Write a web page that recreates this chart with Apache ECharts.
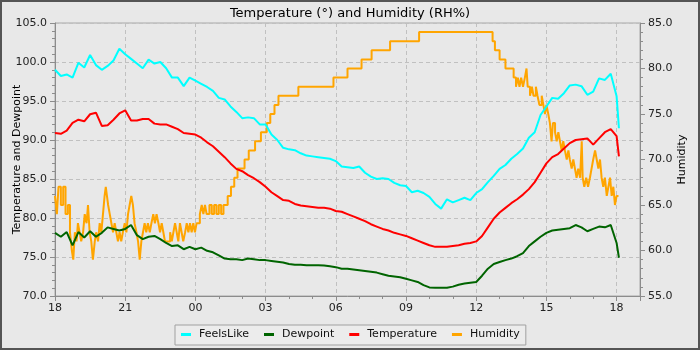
<!DOCTYPE html>
<html>
<head>
<meta charset="utf-8">
<script src="https://cdn.jsdelivr.net/npm/echarts@6/dist/echarts.min.js"></script>
<style>
html,body{margin:0;padding:0;background:#e8e8e8;}
#chart{width:700px;height:350px;}
</style>
</head>
<body>
<div id="chart"></div>
<script>
// Hours since 18:00 of the first day
const hours = [0, 0.25, 0.5, 0.75, 1, 1.25, 1.5, 1.75, 2, 2.25, 2.5, 2.75, 3, 3.25, 3.5, 3.75,
  4, 4.25, 4.5, 4.75, 5, 5.25, 5.5, 5.75, 6, 6.25, 6.5, 6.75, 7, 7.25, 7.5, 7.75,
  8, 8.25, 8.5, 8.75, 9, 9.25, 9.5, 9.75, 10, 10.25, 10.5, 10.75, 11, 11.25, 11.5, 11.75,
  12, 12.25, 12.5, 12.75, 13, 13.25, 13.5, 13.75, 14, 14.25, 14.5, 14.75, 15, 15.25, 15.5, 15.75,
  16, 16.25, 16.5, 16.75, 17, 17.25, 17.5, 17.75, 18, 18.25, 18.5, 18.75, 19, 19.25, 19.5, 19.75,
  20, 20.25, 20.5, 20.75, 21, 21.25, 21.5, 21.75, 22, 22.25, 22.5, 22.75, 23, 23.25, 23.5, 23.75,
  24, 24.1];

const feelsLike = [99.0, 98.2, 98.4, 98.0, 99.9, 99.3, 100.9, 99.6, 99.0, 99.5, 100.2, 101.7, 101.0, 100.4, 99.8, 99.2,
  100.3, 99.8, 100.0, 99.2, 98.0, 98.0, 96.9, 98.0, 97.6, 97.2, 96.8, 96.3, 95.4, 95.2, 94.3, 93.6,
  92.8, 92.9, 92.8, 92.0, 92.0, 90.7, 90.0, 89.0, 88.8, 88.7, 88.3, 88.0, 87.9, 87.8, 87.7, 87.6,
  87.3, 86.6, 86.5, 86.4, 86.6, 85.8, 85.3, 85.0, 85.1, 85.0, 84.5, 84.2, 84.1, 83.3, 83.5, 83.2,
  82.7, 81.8, 81.2, 82.4, 82.0, 82.3, 82.6, 82.3, 83.2, 83.7, 84.6, 85.4, 86.3, 86.8, 87.6, 88.2,
  88.9, 90.3, 91.0, 93.2, 94.3, 95.4, 95.3, 96.0, 97.0, 97.1, 96.9, 95.8, 96.2, 97.9, 97.7, 98.5,
  95.6, 91.5];

const dewpoint = [78.1, 77.6, 78.2, 76.5, 78.2, 77.5, 78.3, 77.6, 78.1, 78.8, 78.6, 78.4, 78.6, 79.1, 77.8, 77.3,
  77.6, 77.7, 77.3, 76.8, 76.4, 76.5, 76.0, 76.3, 76.0, 76.2, 75.8, 75.6, 75.2, 74.8, 74.7, 74.7,
  74.6, 74.8, 74.7, 74.6, 74.6, 74.5, 74.4, 74.3, 74.1, 74.0, 74.0, 73.95, 73.95, 73.95, 73.9, 73.8,
  73.7, 73.5, 73.5, 73.4, 73.3, 73.2, 73.1, 73.0, 72.8, 72.6, 72.5, 72.4, 72.2, 72.0, 71.8, 71.4,
  71.1, 71.05, 71.05, 71.05, 71.2, 71.45, 71.6, 71.7, 71.8, 72.6, 73.5, 74.1, 74.35, 74.6, 74.8, 75.1,
  75.5, 76.4, 77.0, 77.6, 78.1, 78.4, 78.5, 78.6, 78.7, 79.1, 78.8, 78.3, 78.6, 78.9, 78.8, 79.1,
  76.8, 74.9];

const temperature = [90.9, 90.8, 91.2, 92.2, 92.6, 92.4, 93.3, 93.5, 91.8, 91.9, 92.6, 93.4, 93.8, 92.5, 92.5, 92.7,
  92.7, 92.1, 92.0, 92.0, 91.7, 91.4, 90.9, 90.8, 90.7, 90.3, 89.7, 89.2, 88.5, 87.8, 87.0, 86.3,
  86.0, 85.5, 85.1, 84.6, 84.0, 83.3, 82.8, 82.3, 82.2, 81.8, 81.6, 81.5, 81.4, 81.3, 81.3, 81.2,
  80.9, 80.8, 80.5, 80.2, 79.9, 79.6, 79.2, 78.9, 78.6, 78.4, 78.1, 77.9, 77.7, 77.4, 77.1, 76.8,
  76.5, 76.3, 76.3, 76.3, 76.4, 76.5, 76.7, 76.8, 77.0, 77.7, 78.8, 79.9, 80.7, 81.3, 81.9, 82.4,
  83.0, 83.7, 84.6, 85.8, 87.0, 87.8, 88.2, 88.9, 89.6, 90.0, 90.1, 90.2, 89.4, 90.2, 91.0, 91.4,
  90.5, 87.9];

// Humidity change points (hours since 18:00) and values (RH%)
const humHours = [0, 0.08, 0.15, 0.25, 0.35, 0.45, 0.55, 0.64, 0.72, 0.78, 0.85, 0.92, 0.98, 1.05, 1.12, 1.2,
  1.27, 1.35, 1.41, 1.48, 1.55, 1.62, 1.7, 1.76, 1.84, 1.91, 1.98, 2.05, 2.12, 2.17, 2.22, 2.27,
  2.34, 2.41, 2.48, 2.55, 2.62, 2.69, 2.76, 2.83, 2.9, 2.98, 3.05, 3.12, 3.19, 3.26, 3.33, 3.4,
  3.48, 3.55, 3.62, 3.69, 3.76, 3.83, 3.9, 3.97, 4.05, 4.12, 4.2, 4.27, 4.34, 4.42, 4.49, 4.56,
  4.63, 4.7, 4.92, 4.99, 5.06, 5.13, 5.2, 5.27, 5.34, 5.41, 5.48, 5.56, 5.63, 5.7, 5.77, 5.84,
  5.91, 5.98, 6.05, 6.19, 6.27, 6.34, 6.41, 6.48, 6.6, 6.7, 6.8, 6.9, 7.0, 7.1, 7.2, 7.38,
  7.52, 7.66, 7.8, 8.1, 8.28, 8.55, 8.8, 9.05, 9.2, 9.38, 9.55, 10.4, 11.9, 12.5, 13.1, 13.53,
  14.32, 15.56, 18.7, 18.8, 19.0, 19.25, 19.6, 19.7, 19.78, 19.85, 19.92, 20.0, 20.08, 20.15, 20.2, 20.3,
  20.38, 20.45, 20.55, 20.62, 20.7, 20.8, 20.87, 20.94, 21.0, 21.08, 21.15, 21.22, 21.28, 21.37, 21.44, 21.51,
  21.58, 21.65, 21.72, 21.79, 21.87, 21.94, 22.0, 22.08, 22.15, 22.22, 22.29, 22.36, 22.44, 22.51, 22.55, 22.62,
  22.7, 22.78, 22.86, 22.93, 23.0, 23.08, 23.15, 23.22, 23.29, 23.36, 23.43, 23.5, 23.58, 23.65, 23.72, 23.79,
  23.86, 23.93, 24.0, 24.08];
const humidity = [66, 64, 67, 65, 67, 64, 65, 62, 60, 59, 62, 61, 63, 62, 61, 62,
  64, 63, 65, 62, 61, 59, 61, 62, 61, 63, 62, 64, 66, 67, 66, 65,
  64, 63, 62, 63, 62, 61, 62, 61, 62, 63, 62, 64, 65, 66, 65, 63,
  62, 61, 59, 61, 62, 63, 62, 63, 62, 63, 64, 63, 64, 63, 62, 63,
  62, 61, 62, 61, 62, 63, 62, 61, 63, 62, 61, 62, 63, 62, 63, 62,
  63, 62, 63, 64, 65, 64, 65, 64, 65, 64, 65, 64, 65, 64, 65, 66,
  67, 68, 69, 70, 71, 72, 73, 74, 75, 76, 77, 78, 79, 80, 81, 82,
  83, 84, 83, 82, 81, 80, 79, 78, 79, 78, 79, 78, 79, 80, 78, 77,
  78, 77, 78, 77, 76, 77, 76, 75, 76, 75, 74, 72, 74, 73, 72, 73,
  72, 71, 72, 71, 70, 71, 70, 69, 70, 69, 68, 69, 68, 72, 68, 67,
  68, 67, 68, 69, 70, 71, 70, 69, 70, 68, 67, 68, 66, 67, 68, 66,
  67, 65, 66, 66];

const xTickLabels = ['18', '21', '00', '03', '06', '09', '12', '15', '18'];

const FONT = 'DejaVu Sans';
const chart = echarts.init(document.getElementById('chart'), null, {renderer: 'canvas'});
const axisGray = '#8c8c8c';
const option = {
  animation: false,
  backgroundColor: '#e8e8e8',
  title: {
    text: 'Temperature (°) and Humidity (RH%)',
    left: 'center', top: 2,
    textStyle: {fontFamily: FONT, fontSize: 13, fontWeight: 'normal', color: '#000'}
  },
  graphic: [{
    type: 'rect', silent: true, z: 100,
    shape: {x: 1, y: 1, width: 698, height: 348},
    style: {fill: 'none', stroke: '#555', lineWidth: 2}
  }],
  grid: {left: 55, right: 60, top: 23, bottom: 54, containLabel: false, outerBoundsMode: 'none',
    show: true, borderColor: '#a8a8a8', borderWidth: 1, backgroundColor: 'transparent'},
  legend: {
    left: 175, top: 325, width: 360,
    padding: [4, 6, 5, 6], itemGap: 15,
    borderColor: '#a0a0a0', borderWidth: 1, backgroundColor: '#ececec',
    icon: 'rect', itemWidth: 10, itemHeight: 3,
    textStyle: {fontFamily: FONT, fontSize: 11, color: '#111', padding: [0, 0, 0, 3]},
    data: ['FeelsLike', 'Dewpoint', 'Temperature', 'Humidity']
  },
  xAxis: {
    type: 'value', min: 0, max: 25, interval: 3,
    axisLine: {lineStyle: {color: axisGray}},
    axisTick: {show: true, length: 5, lineStyle: {color: axisGray}},
    minorTick: {show: true, splitNumber: 3, length: 3, lineStyle: {color: axisGray}},
    splitLine: {show: true, lineStyle: {color: '#c0c0c0', type: [4, 3], width: 1}},
    axisLabel: {
      fontFamily: FONT, fontSize: 11, color: '#222', margin: 7, showMaxLabel: false,
      formatter: v => { const i = Math.round(v / 3); return (Math.abs(v - i * 3) < 1e-6 && i < xTickLabels.length) ? xTickLabels[i] : ''; }
    }
  },
  yAxis: [{
    type: 'value', min: 70, max: 105, interval: 5, position: 'left',
    name: 'Temperature and Dewpoint', nameLocation: 'middle', nameGap: 32, nameRotate: 90,
    nameMoveOverlap: false,
    nameTextStyle: {fontFamily: FONT, fontSize: 11, color: '#000'},
    axisLine: {show: true, lineStyle: {color: axisGray}},
    axisTick: {show: true, length: 5, lineStyle: {color: axisGray}},
    minorTick: {show: true, splitNumber: 5, length: 3, lineStyle: {color: axisGray}},
    splitLine: {show: true, lineStyle: {color: '#c0c0c0', type: [4, 3], width: 1}},
    axisLabel: {fontFamily: FONT, fontSize: 11, color: '#222', margin: 8, formatter: v => v.toFixed(1)}
  }, {
    type: 'value', min: 55, max: 85, interval: 5, position: 'right',
    name: 'Humidity', nameLocation: 'middle', nameGap: 37, nameRotate: 90,
    nameMoveOverlap: false,
    nameTextStyle: {fontFamily: FONT, fontSize: 11, color: '#000'},
    axisLine: {show: true, lineStyle: {color: axisGray}},
    axisTick: {show: true, length: 5, lineStyle: {color: axisGray}},
    minorTick: {show: true, splitNumber: 5, length: 3, lineStyle: {color: axisGray}},
    splitLine: {show: false},
    axisLabel: {fontFamily: FONT, fontSize: 11, color: '#222', margin: 8, formatter: v => v.toFixed(1)}
  }],
  series: [{
    name: 'Humidity', type: 'line', yAxisIndex: 1, step: 'end', showSymbol: false, symbol: 'none',
    color: '#ffa500', lineStyle: {width: 2, color: '#ffa500'}, z: 1,
    data: humHours.map((h, i) => [h, humidity[i]])
  }, {
    name: 'FeelsLike', type: 'line', showSymbol: false, symbol: 'none',
    color: '#00ffff', lineStyle: {width: 2, color: '#00ffff'}, z: 2,
    data: hours.map((h, i) => [h, feelsLike[i]])
  }, {
    name: 'Dewpoint', type: 'line', showSymbol: false, symbol: 'none',
    color: '#006400', lineStyle: {width: 2, color: '#006400'}, z: 3,
    data: hours.map((h, i) => [h, dewpoint[i]])
  }, {
    name: 'Temperature', type: 'line', showSymbol: false, symbol: 'none',
    color: '#ff0000', lineStyle: {width: 2, color: '#ff0000'}, z: 4,
    data: hours.map((h, i) => [h, temperature[i]])
  }]
};
chart.setOption(option);
</script>
</body>
</html>
